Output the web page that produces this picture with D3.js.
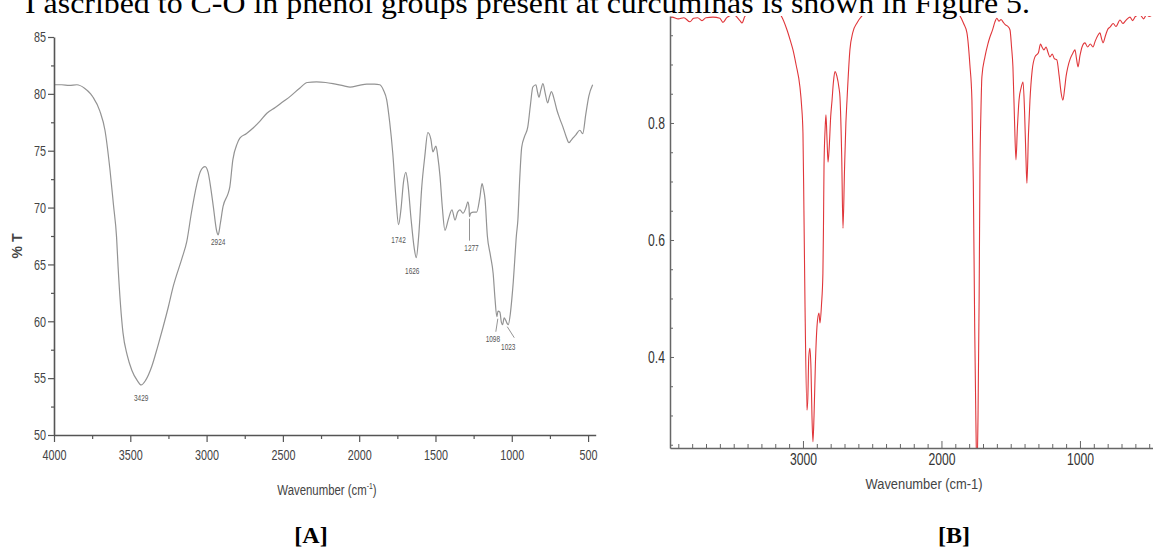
<!DOCTYPE html>
<html>
<head>
<meta charset="utf-8">
<script src="https://cdn.jsdelivr.net/npm/d3@7"></script>
<style>
  html, body { margin: 0; padding: 0; background: #fff; }
  svg { display: block; }
</style>
</head>
<body>
<svg id="fig" width="1153" height="553"></svg>
<script>
// ---- Spectrum A: FTIR, % transmittance ----
const wavenumberA = [4000,3950,3900,3850,3800,3760,3744,3700,3666,3633,3610,3590,3580,3548,3520,3490,3455,3429,3400,3360,3320,3285,3250,3220,3160,3130,3100,3065,3040,3010,2990,2978,2955,2935,2924,2910,2892,2860,2848,2828,2800,2782,2740,2695,2650,2605,2550,2500,2450,2390,2340,2280,2220,2172,2100,2060,2000,1950,1900,1865,1840,1820,1800,1780,1760,1742,1725,1710,1694,1680,1660,1640,1626,1610,1590,1570,1550,1530,1517,1497,1485,1470,1455,1438,1415,1392,1372,1355,1340,1320,1300,1288,1280,1277,1270,1250,1230,1210,1195,1185,1175,1160,1140,1122,1110,1098,1090,1078,1068,1060,1050,1040,1030,1023,1010,1000,990,980,970,960,948,935,915,895,878,862,842,832,822,810,796,780,765,752,740,720,705,685,665,645,625,612,600,580,554,535,515,495,470];
const transmittanceA = [80.8,80.8,80.75,80.8,80.5,80.0,79.7,78.5,76.8,73.3,70.2,67.4,64.8,59.0,57.0,55.7,54.8,54.4,54.8,56.0,57.8,59.5,61.3,63.0,65.6,67.0,69.5,72.0,73.2,73.6,73.1,72.2,70.0,68.0,67.6,68.6,70.1,71.2,71.8,74.2,75.6,76.1,76.5,77.0,77.6,78.3,78.8,79.3,79.8,80.5,81.0,81.05,81.0,80.9,80.7,80.6,80.75,80.85,80.85,80.8,80.3,79.5,77.5,74.8,71.0,68.5,70.0,72.2,73.1,72.0,69.0,66.5,65.6,67.5,71.8,74.5,76.6,76.0,74.9,75.4,74.5,72.7,70.0,68.0,69.0,69.8,68.9,69.6,69.8,69.5,70.0,70.5,70.0,69.2,69.5,69.6,69.6,70.8,72.1,71.6,70.7,67.5,65.8,64.2,62.0,60.4,60.9,60.8,59.9,59.7,60.3,60.1,59.8,59.7,60.6,61.9,63.5,65.5,67.5,68.9,72.5,75.3,76.3,77.1,79.0,80.6,80.8,80.2,79.7,80.3,80.9,80.0,79.2,79.8,80.2,79.4,78.6,77.8,77.1,76.3,75.7,75.9,76.1,76.4,76.8,76.5,78.2,79.8,80.8];
const peakLabelsA = [3429, 2924, 1742, 1626, 1277, 1098, 1023];
const xTicksA = [4000, 3500, 3000, 2500, 2000, 1500, 1000, 500];
const xMinorA = [3750, 3250, 2750, 2250, 1750, 1250, 750];
const yTicksA = [50, 55, 60, 65, 70, 75, 80, 85];
const yMinorA = [52.5, 57.5, 62.5, 67.5, 72.5, 77.5, 82.5];

// ---- Spectrum B ----
const wavenumberB = [3960,3946,3900,3860,3816,3790,3760,3729,3700,3650,3600,3578,3550,3500,3455,3440,3420,3380,3300,3200,3160,3115,3090,3072,3050,3022,3010,3000,2993,2985,2971,2965,2958,2950,2942,2935,2928,2920,2910,2899,2885,2877,2866,2856,2852,2848,2840,2834,2826,2819,2810,2800,2790,2780,2769,2755,2740,2733,2720,2711,2700,2690,2682,2661,2640,2610,2567,2500,2400,2200,2000,1900,1866,1840,1816,1795,1780,1770,1760,1752,1744,1736,1728,1722,1715,1708,1686,1665,1650,1630,1615,1600,1585,1570,1556,1540,1520,1505,1494,1484,1472,1462,1452,1440,1425,1411,1400,1390,1383,1372,1361,1345,1325,1300,1285,1274,1260,1245,1230,1217,1200,1185,1167,1150,1135,1123,1110,1100,1087,1070,1050,1036,1025,1014,1000,985,964,945,925,906,890,870,856,845,834,815,800,783,760,740,711,690,670,639,620,600,567,540,520,500,473];
const signalB = [0.98,0.981,0.978,0.98,0.973,0.979,0.98,0.975,0.98,0.981,0.979,0.972,0.98,0.985,0.975,0.971,0.982,0.99,0.995,0.99,0.984,0.959,0.94,0.925,0.9,0.862,0.83,0.783,0.65,0.485,0.309,0.33,0.4,0.415,0.38,0.3,0.255,0.3,0.39,0.451,0.475,0.458,0.49,0.543,0.62,0.725,0.79,0.814,0.77,0.733,0.76,0.81,0.839,0.87,0.888,0.88,0.86,0.845,0.74,0.62,0.72,0.8,0.839,0.925,0.955,0.971,0.985,0.995,1.0,1.0,0.995,0.99,0.983,0.97,0.954,0.9,0.839,0.7,0.45,0.3,0.2,0.3,0.5,0.72,0.82,0.879,0.913,0.935,0.947,0.96,0.972,0.979,0.974,0.977,0.973,0.968,0.965,0.959,0.93,0.896,0.8,0.737,0.79,0.839,0.86,0.87,0.82,0.74,0.697,0.78,0.839,0.89,0.913,0.92,0.935,0.93,0.925,0.93,0.92,0.913,0.918,0.91,0.908,0.88,0.85,0.839,0.86,0.88,0.896,0.91,0.92,0.925,0.91,0.896,0.915,0.93,0.937,0.93,0.935,0.93,0.94,0.95,0.954,0.945,0.937,0.95,0.96,0.964,0.97,0.965,0.976,0.97,0.975,0.981,0.975,0.982,0.985,0.978,0.985,0.982,0.986];
const xTicksB = [3000, 2000, 1000];
const yTicksB = [0.4, 0.6, 0.8];

const SANS = "'Liberation Sans', Arial, sans-serif";
const SERIF = "'Liberation Serif', 'Times New Roman', serif";
const svg = d3.select("#fig");

// Narrow-looking label: a regular sans face squeezed horizontally
function narrowText(parent, x, y, size, sx, anchor, fill) {
  return parent.append("text")
    .attr("transform", `translate(${x},${y}) scale(${sx},1)`)
    .attr("font-family", SANS).attr("font-size", size)
    .attr("text-anchor", anchor).attr("fill", fill);
}
// Squeeze the labels produced by a d3 axis
function squeezeTicks(sel, size, sx, fill) {
  sel.selectAll(".tick text").each(function () {
    const t = d3.select(this);
    const x0 = +t.attr("x") || 0;
    t.attr("x", x0 / sx)
     .attr("transform", `scale(${sx},1)`)
     .attr("font-family", SANS).attr("font-size", size).attr("fill", fill);
  });
}

// Running text of the page above the figure (only its lower part is in view)
svg.append("text")
  .attr("x", 25).attr("y", 13)
  .attr("font-family", SERIF)
  .attr("font-size", 29)
  .attr("textLength", 1005).attr("lengthAdjust", "spacingAndGlyphs")
  .attr("fill", "#000")
  .text("I ascribed to C-O in phenol groups present at curcuminas is shown in Figure 5.");

// ================= Panel A =================
const xA = d3.scaleLinear().domain([4000, 450]).range([54, 595.7]);
const yA = d3.scaleLinear().domain([50, 85]).range([435, 37]);
const gA = svg.append("g");
const axisColA = "#555";

const lineA = d3.line()
  .x((d, i) => xA(wavenumberA[i]))
  .y((d, i) => yA(transmittanceA[i]))
  .curve(d3.curveMonotoneX);
gA.append("path")
  .datum(transmittanceA)
  .attr("d", lineA)
  .attr("fill", "none")
  .attr("stroke", "#939393")
  .attr("stroke-width", 1.2);

const axAx = gA.append("g").attr("transform", "translate(0,435)")
  .call(d3.axisBottom(xA).tickValues(xTicksA).tickSize(7).tickSizeOuter(0).tickPadding(7).tickFormat(d3.format("d")));
gA.append("g").attr("transform", "translate(0,435)")
  .call(d3.axisBottom(xA).tickValues(xMinorA).tickSize(4).tickFormat(""))
  .call(g => g.select(".domain").remove());
const axAy = gA.append("g").attr("transform", "translate(54,0)")
  .call(d3.axisLeft(yA).tickValues(yTicksA).tickSize(6).tickSizeOuter(0).tickPadding(2).tickFormat(d3.format("d")));
gA.append("g").attr("transform", "translate(54,0)")
  .call(d3.axisLeft(yA).tickValues(yMinorA).tickSize(3).tickFormat(""))
  .call(g => g.select(".domain").remove());

gA.selectAll(".domain").attr("stroke", axisColA).attr("stroke-width", 1.6);
gA.selectAll(".tick line").attr("stroke", axisColA).attr("stroke-width", 1.2);
squeezeTicks(axAx, 15, 0.72, "#444");
squeezeTicks(axAy, 15, 0.72, "#444");

narrowText(gA, 327, 495, 15, 0.76, "middle", "#444")
  .html('Wavenumber (cm<tspan dy="-6" font-size="9">-1</tspan><tspan dy="6">)</tspan>');

gA.append("text")
  .attr("transform", "translate(22,246) rotate(-90)")
  .attr("font-family", SANS)
  .attr("text-anchor", "middle").attr("font-size", 14).attr("font-weight", "bold").attr("fill", "#444")
  .text("% T");

// Peak annotations placed from the labelled wavenumbers
const peakOffset = { 3429: [0, 16], 2924: [0, 10], 1742: [0, 18], 1626: [-4, 16], 1277: [2, 34], 1098: [-4, 25], 1023: [0, 25] };
const valueAt = wn => transmittanceA[wavenumberA.indexOf(wn)];
peakLabelsA.forEach(wn => {
  const [dx, dy] = peakOffset[wn];
  const px = xA(wn), py = yA(valueAt(wn));
  narrowText(gA, px + dx, py + dy, 9, 0.72, "middle", "#555").text(wn);
});
// leader lines
const leaders = [
  [1277, 0, 2, 0, 24],
  [1098, 1, 2, -1, 15],
  [1023, -1, 2, 6, 13]
];
leaders.forEach(([wn, dx1, dy1, dx2, dy2]) => {
  const px = xA(wn), py = yA(valueAt(wn));
  gA.append("line")
    .attr("x1", px + dx1).attr("y1", py + dy1)
    .attr("x2", px + dx2).attr("y2", py + dy2)
    .attr("stroke", "#888").attr("stroke-width", 0.9);
});

// ================= Panel B =================
const xB = d3.scaleLinear().domain([3960, 400]).range([670, 670 + 3560 * 0.1385]);
const yB = d3.scaleLinear().domain([0.2444, 0.9829]).range([448, 16]);
const gB = svg.append("g");
const axisColB = "#666";

svg.append("defs").append("clipPath").attr("id", "clipB")
  .append("rect").attr("x", 670).attr("y", 16).attr("width", 490).attr("height", 432);

const lineB = d3.line()
  .x((d, i) => xB(wavenumberB[i]))
  .y((d, i) => yB(signalB[i]))
  .curve(d3.curveMonotoneX);
gB.append("path")
  .datum(signalB)
  .attr("clip-path", "url(#clipB)")
  .attr("d", lineB)
  .attr("fill", "none")
  .attr("stroke", "#e0363a")
  .attr("stroke-width", 1.1);

const xMinorB = d3.range(3900, 399, -100).filter(v => v % 1000 !== 0);
const yMinorB = d3.range(0.25, 0.98, 0.05).map(v => +v.toFixed(2)).filter(v => !yTicksB.includes(v));

const axBx = gB.append("g").attr("transform", "translate(0,448)")
  .call(d3.axisBottom(xB).tickValues(xTicksB).tickSizeInner(-7).tickSizeOuter(0).tickPadding(6).tickFormat(d3.format("d")));
gB.append("g").attr("transform", "translate(0,448)")
  .call(d3.axisBottom(xB).tickValues(xMinorB).tickSizeInner(-4).tickSizeOuter(0).tickFormat(""))
  .call(g => g.select(".domain").remove());
const axBy = gB.append("g").attr("transform", "translate(670,0)")
  .call(d3.axisLeft(yB).tickValues(yTicksB).tickSizeInner(-4).tickSizeOuter(0).tickPadding(5).tickFormat(d3.format(".1f")));
gB.append("g").attr("transform", "translate(670,0)")
  .call(d3.axisLeft(yB).tickValues(yMinorB).tickSizeInner(-3).tickSizeOuter(0).tickFormat(""))
  .call(g => g.select(".domain").remove());

gB.selectAll(".domain").attr("stroke", axisColB).attr("stroke-width", 1.5);
gB.selectAll(".tick line").attr("stroke", axisColB).attr("stroke-width", 1);
squeezeTicks(axBx, 16, 0.76, "#333");
squeezeTicks(axBy, 16, 0.76, "#333");

narrowText(gB, 924, 489, 15, 0.86, "middle", "#444").text("Wavenumber (cm-1)");

// ================= Panel captions =================
svg.append("text")
  .attr("x", 311).attr("y", 543).attr("text-anchor", "middle")
  .attr("font-family", SERIF)
  .attr("font-size", 24).attr("font-weight", "bold").attr("fill", "#000")
  .text("[A]");
svg.append("text")
  .attr("x", 954).attr("y", 543).attr("text-anchor", "middle")
  .attr("font-family", SERIF)
  .attr("font-size", 24).attr("font-weight", "bold").attr("fill", "#000")
  .text("[B]");
</script>
</body>
</html>
